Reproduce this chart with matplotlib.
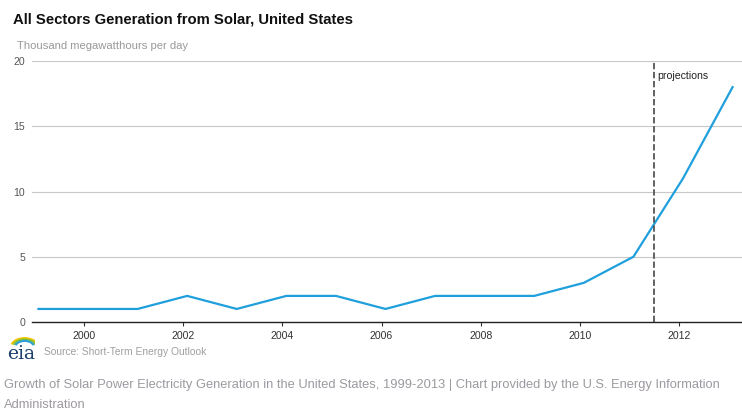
"""All sectors solar generation chart (EIA STEO style)."""
import matplotlib
matplotlib.use('Agg')
import matplotlib.pyplot as plt
from matplotlib.patches import Arc

plt.rcParams['font.family'] = ['Liberation Sans', 'DejaVu Sans']

# data
years = [1999, 2000, 2001, 2002, 2003, 2004, 2005, 2006, 2007,
         2008, 2009, 2010, 2011, 2012, 2013]
solar = [1, 1, 1, 2, 1, 2, 2, 1, 2, 2, 2, 3, 5, 11, 18]
tick_years = [2000, 2002, 2004, 2006, 2008, 2010, 2012]
y_ticks = [0, 5, 10, 15, 20]
projection_start = 2011.5

title = 'All Sectors Generation from Solar, United States'
units = 'Thousand megawatthours per day'
source = 'Source: Short-Term Energy Outlook'
caption = ('Growth of Solar Power Electricity Generation in the United States, '
           '1999-2013 | Chart provided by the U.S. Energy Information\nAdministration')

fig = plt.figure(figsize=(7.42, 4.19), dpi=100)
ax = fig.add_axes([0.0431, 0.2315, 0.9569, 0.6229])

# points sit a little after the year tick in the original
x_pts = [y + 0.08 for y in years]
ax.plot(x_pts, solar, color='#1f9fdc', linewidth=1.6, solid_joinstyle='miter')

ax.set_xlim(1998.95, 2013.27)
ax.set_ylim(0, 20)
ax.set_yticks(y_ticks)
ax.set_xticks(tick_years)
ax.set_xticklabels([str(y) for y in tick_years], fontsize=7.6, color='#333333')
ax.set_yticklabels([str(v) for v in y_ticks], fontsize=7.6, color='#555555')
ax.tick_params(axis='y', length=0, pad=5)
ax.tick_params(axis='x', length=3, width=0.8, color='#333333', pad=3.5)

ax.grid(axis='y', color='#c8c8c8', linewidth=0.8)
ax.set_axisbelow(True)
for side in ['top', 'right', 'left']:
    ax.spines[side].set_visible(False)
ax.spines['bottom'].set_color('#222222')
ax.spines['bottom'].set_linewidth(1.0)

ax.axvline(projection_start, color='#555555', linewidth=1.3,
           linestyle=(0, (3.5, 1.5)), ymax=0.995)
ax.text(projection_start + 0.07, 19.2, 'projections', fontsize=7.6,
        color='#222222', va='top', ha='left')

fig.text(13 / 742, 1 - 20 / 419, title, fontsize=10.7, fontweight='bold',
         color='#111111', va='center', ha='left')
fig.text(17 / 742, 1 - 46 / 419, units, fontsize=8.1, color='#999999',
         va='center', ha='left')

# eia logo, roughly
fig.text(7 / 742, 1 - 354 / 419, 'eia', fontsize=13.5, family='DejaVu Serif',
         color='#1b3f6b', va='center', ha='left')
logo_ax = fig.add_axes([9 / 742, 1 - 347 / 419, 26 / 742, 11 / 419])
logo_ax.set_xlim(0, 1)
logo_ax.set_ylim(0, 1)
logo_ax.axis('off')
for r, c in [(0.95, '#f5c400'), (0.8, '#7cbf3a'), (0.65, '#2f9fd8')]:
    logo_ax.add_patch(Arc((0.6, 0.0), r * 1.1, r * 1.7, theta1=25, theta2=155,
                          color=c, linewidth=1.5))

fig.text(44 / 742, 1 - 352 / 419, source, fontsize=7.4, color='#a0a0a0',
         va='center', ha='left')
fig.text(4 / 742, 1 - 379 / 419, caption, fontsize=9.3, color='#9d99a0',
         va='top', ha='left', linespacing=1.88)

fig.savefig('out.png', dpi=100)
plt.close(fig)
